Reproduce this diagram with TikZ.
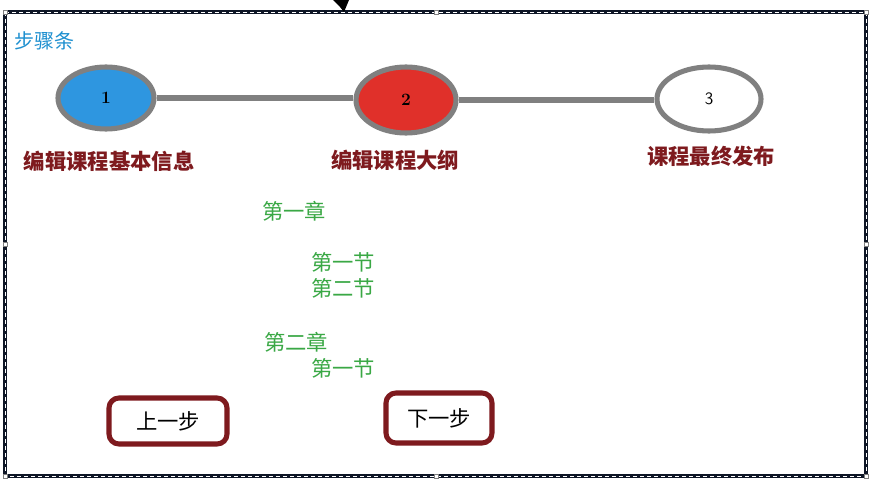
\documentclass[tikz,border=0pt]{standalone}
\usepackage{fontspec}
\newfontfamily\cjk{Noto Sans CJK SC}
\usetikzlibrary{shapes.geometric}
\definecolor{stepblue}{HTML}{2E96E0}
\definecolor{stepred}{HTML}{E0302A}
\definecolor{ringgray}{HTML}{808080}
\definecolor{darkred}{HTML}{7E1A1E}
\definecolor{titleblue}{HTML}{1E90D0}
\definecolor{chgreen}{HTML}{3AA845}
\definecolor{framenavy}{HTML}{0E1626}
\tikzset{
  stepnode/.style={ellipse, draw=ringgray, line width=3.8pt, minimum width=72pt, minimum height=46.5pt, inner sep=0pt, font=\bfseries\fontsize{13}{14}\selectfont},
  steplabel/.style={text=darkred, font=\cjk\bfseries\fontsize{16}{18}\selectfont},
  outline/.style={text=chgreen, anchor=west, font=\cjk\fontsize{16}{18}\selectfont, inner sep=0pt},
  btn/.style={draw=darkred, line width=3.8pt, rounded corners=7.5pt, inner sep=0pt, font=\cjk\fontsize{16}{18}\selectfont},
  handle/.style={draw=gray, fill=white, line width=0.4pt, minimum size=3pt, inner sep=0pt},
  link/.style={draw=ringgray, line width=3.8pt}
}
\begin{document}
\begin{tikzpicture}[x=0.75pt, y=-0.75pt]
\useasboundingbox (0,0) rectangle (874,485);
\fill[white] (0,0) rectangle (874,485);
% frame
\draw[framenavy, line width=2.6pt] (5,12) rectangle (866,476);
\draw[white, line width=0.6pt, dash pattern=on 3pt off 2.25pt] (5,12) rectangle (866,476);
\foreach \p in {(5,12),(436,12),(866,12),(5,244),(866,244),(5,476),(436,476),(866,476)}
  \node[handle] at \p {};
% cursor
\fill[black] (333,0) -- (349,0) -- (344,12) -- (340,7) -- cycle;
% title
\node[anchor=west, text=titleblue, font=\cjk\fontsize{15}{17}\selectfont, inner sep=0pt] (title) at (14,41) {步骤条};
% steps
\node[stepnode, fill=stepblue] (s1) at (106,98) {1};
\node[stepnode, fill=stepred, minimum width=75pt, minimum height=49.5pt] (s2) at (406,100) {2};
\node[stepnode, fill=white, minimum width=78pt, minimum height=48pt, font=\sffamily\fontsize{13}{14}\selectfont] (s3) at (709,99) {3};
\draw[link] (s1.east) -- (s1.east -| s2.west);
\draw[link] (s2.east) -- (s2.east -| s3.west);
\node[steplabel] (l1) at (109,161) {编辑课程基本信息};
\node[steplabel] (l2) at (395,160) {编辑课程大纲};
\node[steplabel] (l3) at (711,156) {课程最终发布};
% outline
\node[outline] (c1) at (262,211) {第一章};
\node[outline] (c1s1) at (311,262) {第一节};
\node[outline] (c1s2) at (311,288) {第二节};
\node[outline] (c2) at (264,342) {第二章};
\node[outline] (c2s1) at (311,368) {第一节};
% buttons
\node[btn, minimum width=88.5pt, minimum height=34.5pt] (prev) at (168,421) {上一步};
\node[btn, minimum width=79.5pt, minimum height=37.5pt] (next) at (439,418) {下一步};
\end{tikzpicture}
\end{document}
